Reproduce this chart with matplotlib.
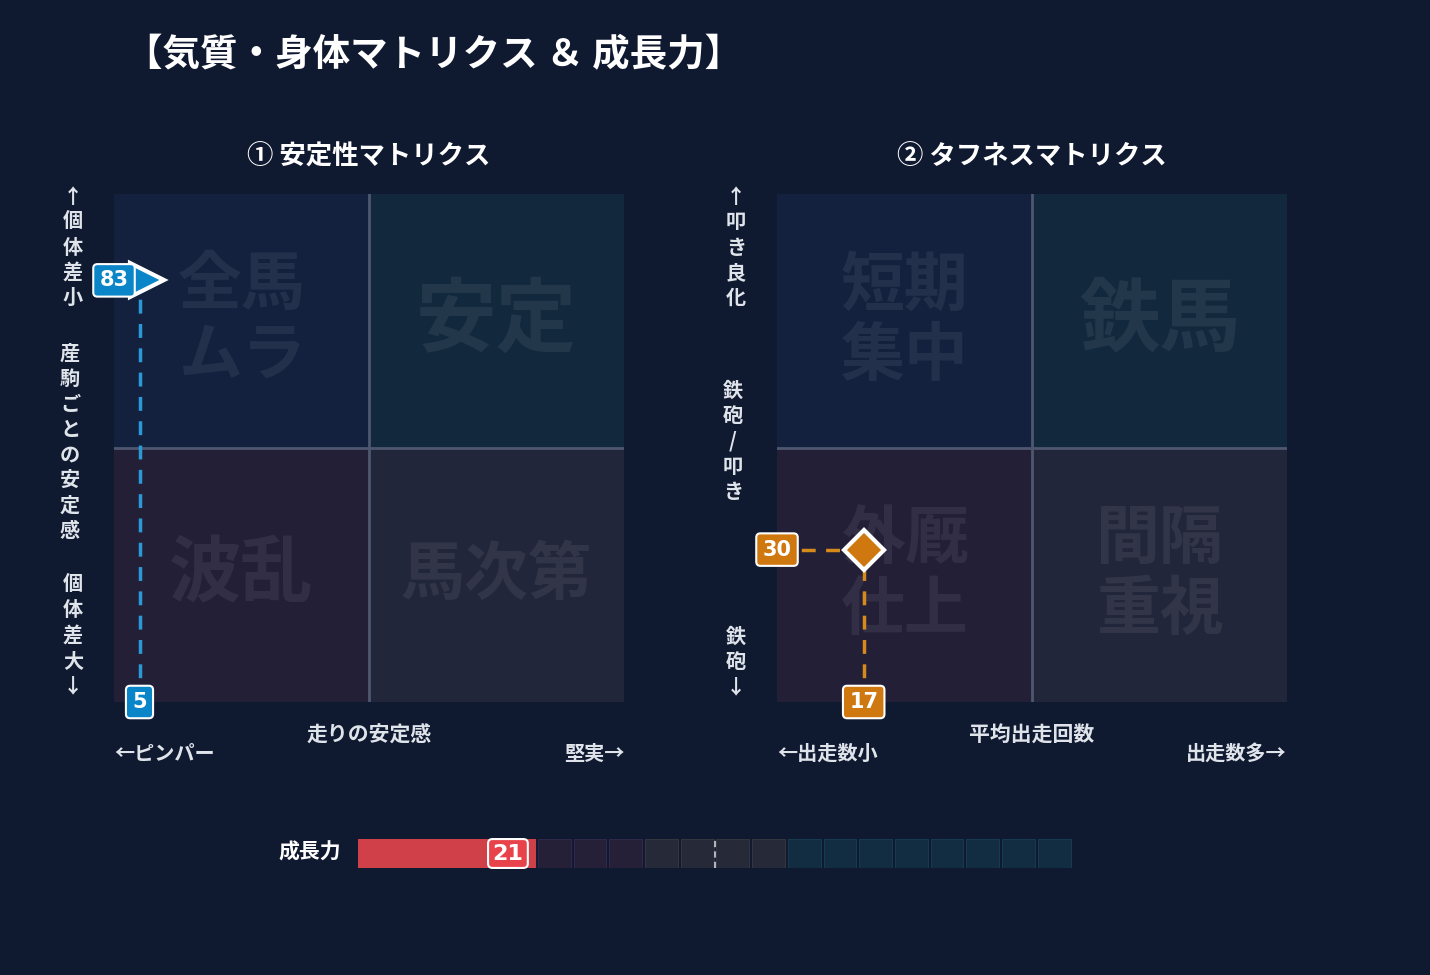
import matplotlib
matplotlib.use("Agg")
import matplotlib.pyplot as plt
from matplotlib.patches import Rectangle

plt.rcParams['font.family'] = ['DejaVu Sans', 'Noto Sans CJK JP']
plt.rcParams['font.weight'] = 'bold'
CJK = ['Noto Sans CJK JP', 'DejaVu Sans']

BG = '#0f1930'
W, H = 1430, 975

# data
stab_x, stab_y = 5, 83
tough_x, tough_y = 17, 30
growth = 21
growth_segments = 20
quad_colors = ['#13213f', '#12283d', '#231f37', '#22263a']  # TL, TR, BL, BR
stab_labels = ['全馬\nムラ', '安定', '波乱', '馬次第']
tough_labels = ['短期\n集中', '鉄馬', '外厩\n仕上', '間隔\n重視']
label_sizes = [48, 58, 52, 46]

fig = plt.figure(figsize=(W / 100, H / 100), dpi=100, facecolor=BG)

def px_axes(x0, y0, x1, y1):
    return fig.add_axes([x0 / W, 1 - y1 / H, (x1 - x0) / W, (y1 - y0) / H])

fig.text(125 / W, 1 - 55 / H, '【気質・身体マトリクス ＆ 成長力】', color='white',
         fontsize=27, va='center', ha='left', family=CJK)

def matrix(x0, title, labels, xlab, xl, xr):
    ax = px_axes(x0, 194, x0 + 510, 702)
    ax.set_xlim(0, 100); ax.set_ylim(0, 100); ax.axis('off')
    pos = [(0, 50), (50, 50), (0, 0), (50, 0)]
    for (qx, qy), c, lab, fs in zip(pos, quad_colors, labels, label_sizes):
        ax.add_patch(Rectangle((qx, qy), 50, 50, color=c, zorder=0))
        if '\n' in lab:
            fs = 46
        ax.text(qx + 25, qy + 25, lab, color='#ffffff', alpha=0.07, fontsize=fs,
                ha='center', va='center', linespacing=1.1, family=CJK)
    ax.plot([50, 50], [0, 100], color='#4f5770', lw=2)
    ax.plot([0, 100], [50, 50], color='#4f5770', lw=2)
    cx = x0 + 255
    fig.text(cx / W, 1 - 157 / H, title, color='white', fontsize=19, ha='center', va='center', family=CJK)
    fig.text(cx / W, 1 - 735 / H, xlab, color='#dfe3ea', fontsize=15, ha='center', va='center', family=CJK)
    fig.text(x0 / W, 1 - 753 / H, xl, color='#dfe3ea', fontsize=14.5, ha='left', va='center', family=CJK)
    fig.text((x0 + 510) / W, 1 - 753 / H, xr, color='#dfe3ea', fontsize=14.5, ha='right', va='center', family=CJK)
    return ax

ax1 = matrix(114, '① 安定性マトリクス', stab_labels, '走りの安定感', '←ピンパー', '堅実→')
ax2 = matrix(777, '② タフネスマトリクス', tough_labels, '平均出走回数', '←出走数小', '出走数多→')

def vtext(x, y, s, size=14.5):
    fig.text(x / W, 1 - y / H, '\n'.join(s), color='#dfe3ea', fontsize=size,
             ha='center', va='top', linespacing=1.25, family=CJK)

vtext(73, 186, '↑個体差小')
vtext(70, 343, '産駒ごとの安定感')
vtext(73, 574, '個体差大↓')
vtext(736, 186, '↑叩き良化')
vtext(733, 380, '鉄砲/叩き')
vtext(736, 626, '鉄砲↓')

def badge(ax, x, y, s, fc):
    ax.text(x, y, s, color='white', fontsize=15, ha='center', va='center', zorder=6,
            clip_on=False,
            bbox=dict(boxstyle='round,pad=0.3,rounding_size=0.2', fc=fc, ec='white', lw=1.5))

# stability marker
blue = '#0a86c8'
ax1.plot([stab_x, stab_x], [0, stab_y], color='#2a9ad6', lw=2.5, ls=(0, (4, 3)), zorder=3)
ax1.plot(stab_x + 1.5, stab_y, marker='>', ms=24, color=blue, mec='white', mew=3, zorder=5, clip_on=False)
badge(ax1, 0, stab_y, f'{stab_y}', blue)
badge(ax1, stab_x, 0, f'{stab_x}', blue)

# toughness marker
orange = '#d07810'
ax2.plot([tough_x, tough_x], [0, tough_y], color='#d68a1c', lw=2.5, ls=(0, (4, 3)), zorder=3)
ax2.plot([0, tough_x], [tough_y, tough_y], color='#d68a1c', lw=2.5, ls=(0, (4, 3)), zorder=3, clip_on=False)
ax2.plot(tough_x, tough_y, marker='D', ms=20, color=orange, mec='white', mew=3, zorder=5, clip_on=False)
badge(ax2, 0, tough_y, f'{tough_y}', orange)
badge(ax2, tough_x, 0, f'{tough_x}', orange)

# growth bar
axg = px_axes(358, 839, 1072, 868)
axg.set_xlim(0, 100); axg.set_ylim(0, 1); axg.axis('off')
seg = 100 / growth_segments
for i in range(growth_segments):
    x = i * seg
    if x < growth:
        fc, ec = '#d04048', '#d04048'
    elif i < 8:
        fc, ec = '#261f38', '#30284a'
    elif i < 12:
        fc, ec = '#262a38', '#35353f'
    else:
        fc, ec = '#122c42', '#163a50'
    axg.add_patch(Rectangle((x + 0.2, 0), seg - 0.4, 1, fc=fc, ec=ec, lw=0.8))
axg.add_patch(Rectangle((0, 0), 24, 1, fc='#d04048', lw=0))
axg.plot([50, 50], [0, 1], color='#b0b4c0', lw=1.5, ls=(0, (3, 2)))
axg.text(growth, 0.5, f'{growth}', color='white', fontsize=16, ha='center', va='center', zorder=6,
         bbox=dict(boxstyle='round,pad=0.2,rounding_size=0.2', fc='#e8424a', ec='white', lw=1.5))
fig.text(310 / W, 1 - 852 / H, '成長力', color='white', fontsize=15, ha='center', va='center', family=CJK)

fig.savefig('out.png', dpi=100, facecolor=BG)
